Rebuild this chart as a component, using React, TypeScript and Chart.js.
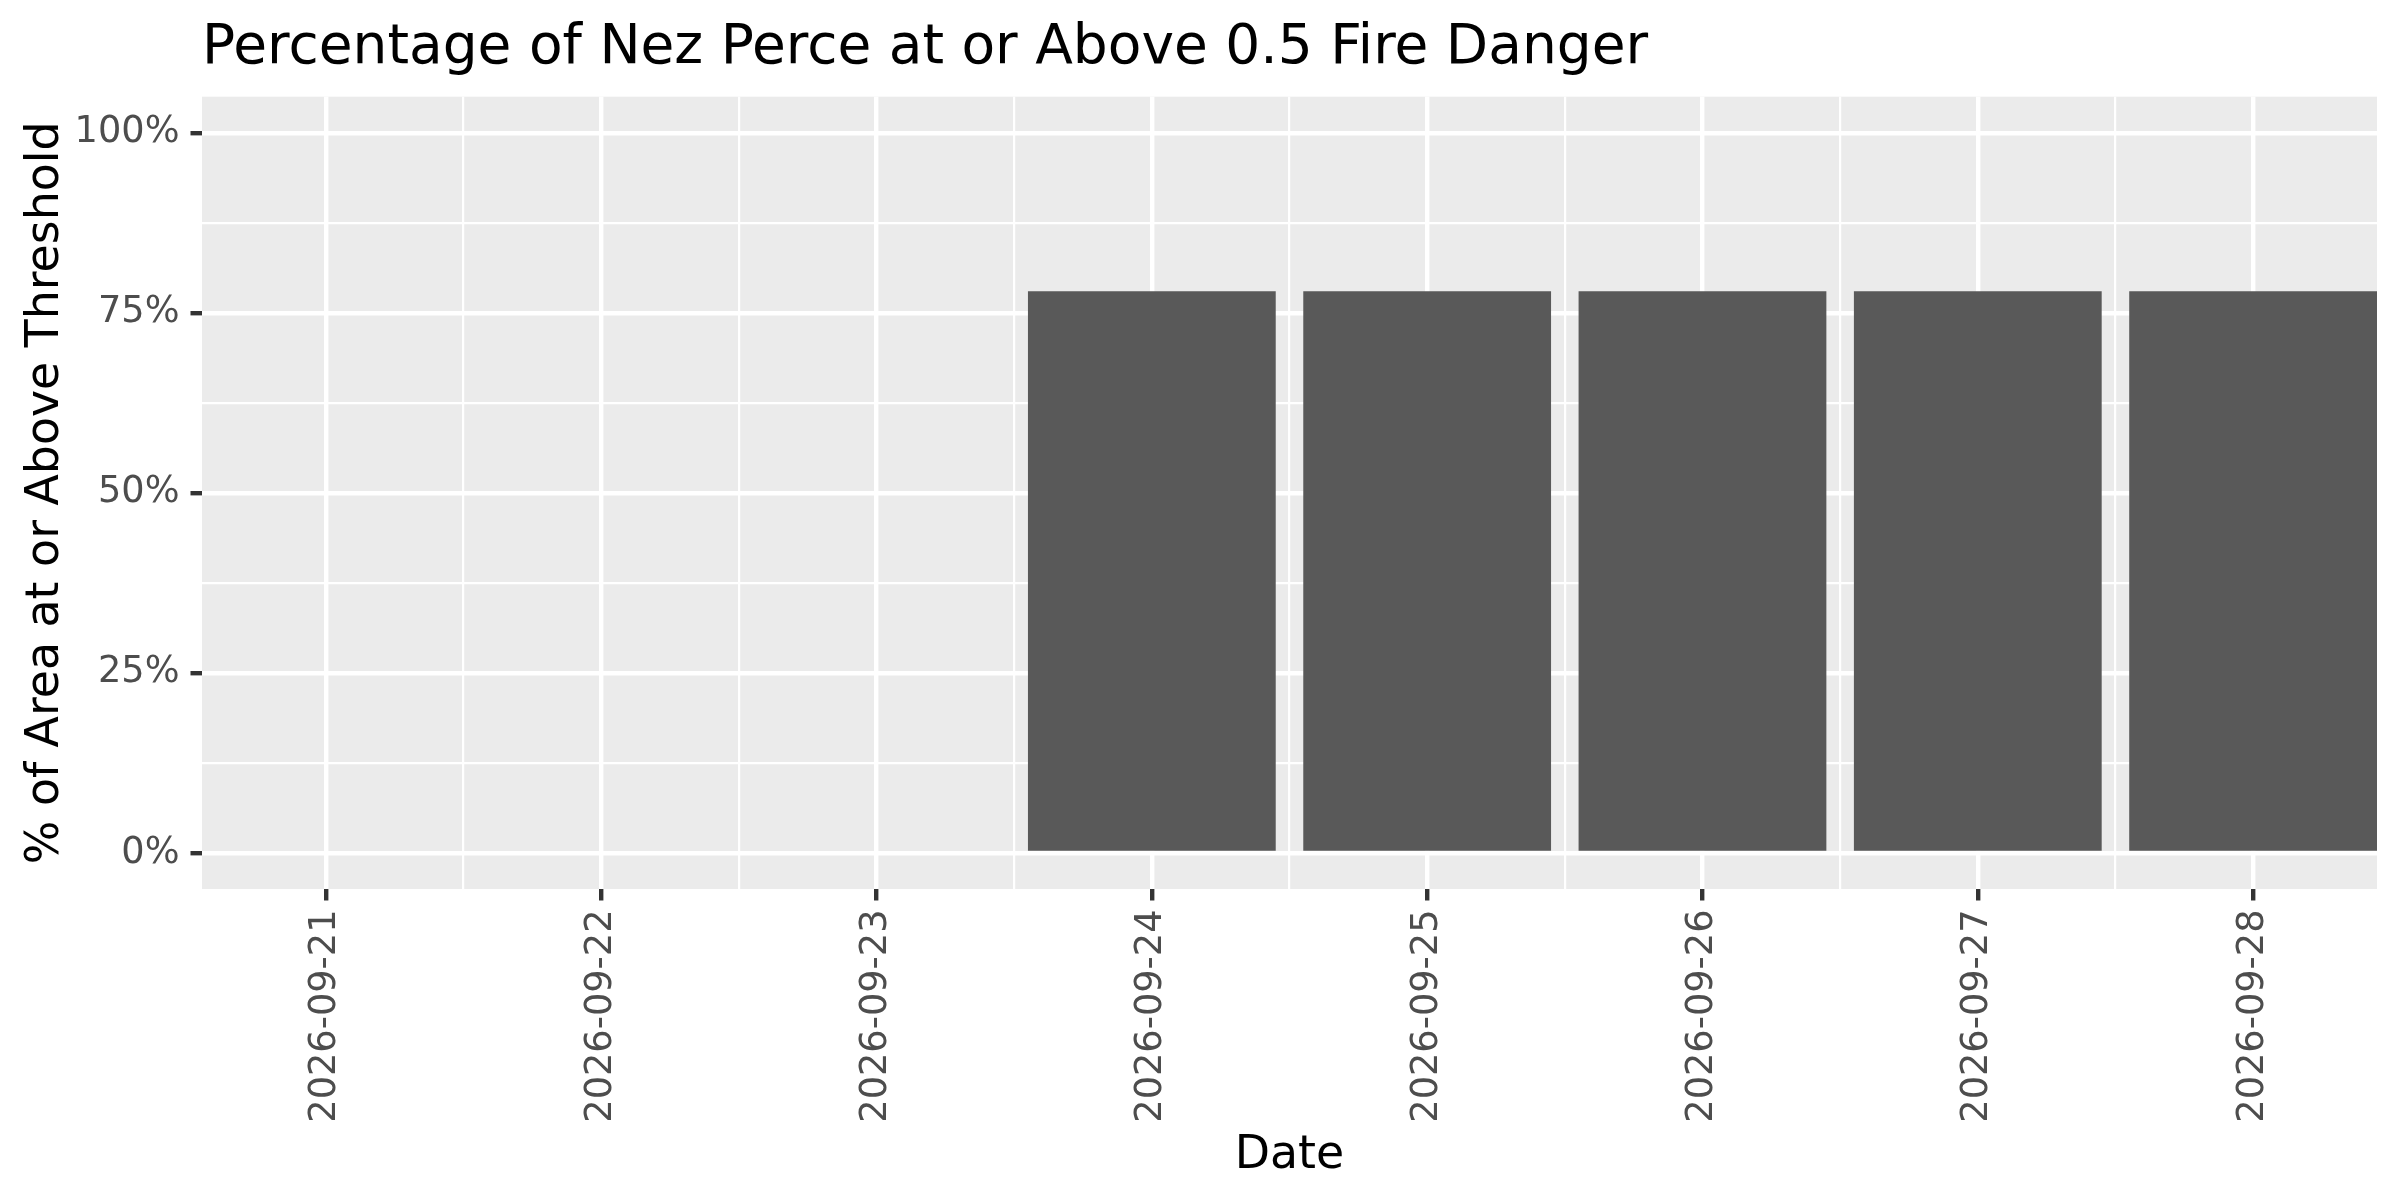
import { useEffect, useRef } from 'react';
import { Chart, registerables } from 'chart.js';

Chart.register(...registerables);

// data
const dates = [
  '2026-09-21', '2026-09-22', '2026-09-23', '2026-09-24',
  '2026-09-25', '2026-09-26', '2026-09-27', '2026-09-28',
];
const pctAbove = [0, 0, 0, 0.78, 0.78, 0.78, 0.78, 0.78];
const yBreaks = [0, 0.25, 0.5, 0.75, 1];
const yLabels = ['0%', '25%', '50%', '75%', '100%'];

const TITLE = 'Percentage of Nez Perce at or Above 0.5 Fire Danger';
const X_TITLE = 'Date';
const Y_TITLE = '% of Area at or Above Threshold';

const FONT = "'DejaVu Sans', sans-serif";
const PANEL = '#EBEBEB';
const BAR = '#595959';
const AXIS_TEXT = '#4D4D4D';
const TICK = '#333333';

const near = (a: number, b: number) => Math.abs(a - b) < 1e-6;
const isMajorX = (v: number) => near(v, Math.round(v));
const isMajorY = (v: number) => yBreaks.some((b) => near(b, v));

// major + minor (half-way) breaks, ggplot style
const withMinor = (breaks: number[]) => {
  const out: number[] = [];
  breaks.forEach((b, i) => {
    out.push(b);
    if (i < breaks.length - 1) out.push((b + breaks[i + 1]) / 2);
  });
  return out;
};

const ggDecor = {
  id: 'ggDecor',
  beforeDraw(chart: Chart) {
    const { ctx, chartArea: a } = chart;
    ctx.save();
    ctx.fillStyle = PANEL;
    ctx.fillRect(a.left, a.top, a.right - a.left, a.bottom - a.top);
    ctx.restore();
  },
  afterDraw(chart: Chart) {
    const { ctx, chartArea: a } = chart;
    ctx.save();
    ctx.fillStyle = '#000000';
    ctx.textBaseline = 'alphabetic';
    ctx.font = `55px ${FONT}`;
    ctx.textAlign = 'left';
    ctx.fillText(TITLE, a.left, 63);
    ctx.font = `45.8px ${FONT}`;
    ctx.textAlign = 'center';
    ctx.fillText(X_TITLE, (a.left + a.right) / 2, 1168);
    ctx.translate(57.5, (a.top + a.bottom) / 2);
    ctx.rotate(-Math.PI / 2);
    ctx.fillText(Y_TITLE, 0, 0);
    ctx.restore();
  },
};

function FireDangerChart() {
  const canvasRef = useRef<HTMLCanvasElement>(null);
  const chartRef = useRef<Chart | null>(null);

  useEffect(() => {
    if (!canvasRef.current) return;
    const ctx = canvasRef.current.getContext('2d');
    if (!ctx) return;

    const xBreaks = dates.map((_, i) => i);

    chartRef.current?.destroy();
    chartRef.current = new Chart(ctx, {
      type: 'bar',
      data: {
        datasets: [
          {
            label: 'pct',
            data: pctAbove.map((v, i) => ({ x: xBreaks[i], y: v })),
            backgroundColor: BAR,
            borderWidth: 0,
            inflateAmount: 0, // no hairline for the 0% days
            // flex: width from neighbouring bars, not from the (minor) tick spacing
            barThickness: 'flex',
            barPercentage: 0.9,
            categoryPercentage: 1,
          },
        ],
      },
      options: {
        animation: false,
        responsive: false,
        devicePixelRatio: 1,
        layout: { padding: { top: 96.7, right: 23, left: 0, bottom: 0 } },
        plugins: {
          legend: { display: false },
          tooltip: { enabled: false },
          title: { display: false },
        },
        scales: {
          x: {
            type: 'linear',
            offset: false,
            min: -0.45,
            max: dates.length - 0.55,
            afterBuildTicks: (s: any) => {
              s.ticks = withMinor(xBreaks).map((value) => ({ value }));
            },
            afterFit: (s: any) => { s.height = 311; },
            border: { display: false },
            grid: {
              offset: false,
              color: '#FFFFFF',
              lineWidth: (c: any) => (isMajorX(c.tick?.value ?? 0) ? 4.4 : 2.2),
              drawTicks: true,
              tickLength: 11.5,
              tickWidth: 4.4,
              tickColor: (c: any) => (isMajorX(c.tick?.value ?? 0) ? TICK : 'rgba(0,0,0,0)'),
            },
            ticks: {
              autoSkip: false,
              minRotation: 90,
              maxRotation: 90,
              padding: 9,
              color: AXIS_TEXT,
              font: { family: FONT, size: 36.7 },
              callback: (v: any) => (isMajorX(v) ? dates[Math.round(v)] : ''),
            },
          },
          y: {
            type: 'linear',
            min: -0.05,
            max: 1.05,
            afterBuildTicks: (s: any) => {
              s.ticks = withMinor(yBreaks).map((value) => ({ value }));
            },
            afterFit: (s: any) => { s.width = 202; },
            border: { display: false },
            grid: {
              color: '#FFFFFF',
              lineWidth: (c: any) => (isMajorY(c.tick?.value ?? 0) ? 4.4 : 2.2),
              drawTicks: true,
              tickLength: 11.5,
              tickWidth: 4.4,
              tickColor: (c: any) => (isMajorY(c.tick?.value ?? 0) ? TICK : 'rgba(0,0,0,0)'),
            },
            ticks: {
              autoSkip: false,
              padding: 11,
              color: AXIS_TEXT,
              font: { family: FONT, size: 36.7 },
              callback: (v: any) => {
                const i = yBreaks.findIndex((b) => near(b, v));
                return i >= 0 ? yLabels[i] : '';
              },
            },
          },
        },
      },
      plugins: [ggDecor],
    } as any);

    return () => { chartRef.current?.destroy(); };
  }, []);

  return <canvas ref={canvasRef} width={2400} height={1200} style={{ display: 'block' }} />;
}

export default function App() {
  useEffect(() => {
    document.body.style.margin = '0';
    document.body.style.overflow = 'hidden';
  }, []);
  return (
    <div style={{ position: 'absolute', left: 0, top: 0, width: 2400, height: 1200, background: '#FFFFFF' }}>
      <FireDangerChart />
    </div>
  );
}
